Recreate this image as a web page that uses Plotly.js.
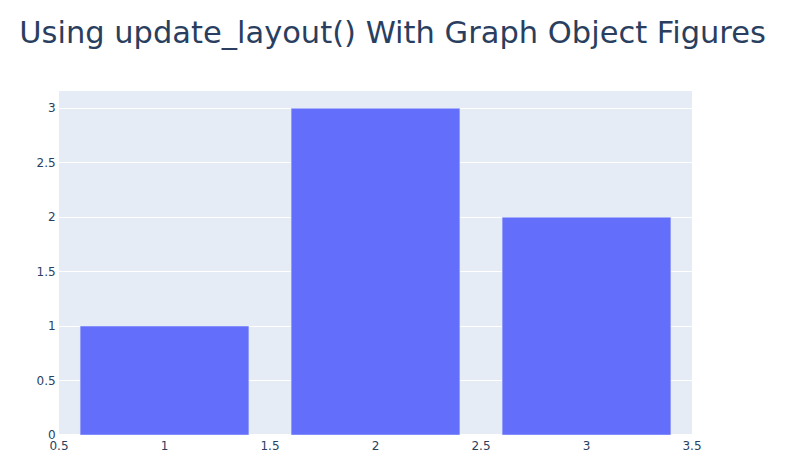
<!DOCTYPE html>
<html>
<head>
<meta charset="utf-8">
<script src="https://cdn.plot.ly/plotly-3.0.1.min.js"></script>
<style>html,body{margin:0;padding:0;background:#fff;}#chart{width:793px;height:463px;}</style>
</head>
<body>
<div id="chart"></div>
<script>
const xValues = [1, 2, 3];
const yValues = [1, 3, 2];
const titleText = "Using update_layout() With Graph Object Figures";

const data = [{
  type: "bar",
  x: xValues,
  y: yValues,
  marker: {color: "#636efa", line: {color: "#E5ECF6", width: 0.5}}
}];

const layout = {
  width: 793,
  height: 463,
  title: {text: titleText, font: {size: 30.5, color: "#2a3f5f", family: "DejaVu Sans, Verdana, sans-serif"},
          x: 0.495, xanchor: "center", xref: "container", yref: "container", y: 0.93, yanchor: "middle"},
  paper_bgcolor: "#ffffff",
  plot_bgcolor: "#E5ECF6",
  font: {color: "#2a3f5f", family: "DejaVu Sans, Verdana, sans-serif", size: 12},
  margin: {l: 59, r: 101, t: 91, b: 28},
  xaxis: {showgrid: false, linecolor: "white", zerolinecolor: "white", ticks: "", automargin: false},
  yaxis: {gridcolor: "white", linecolor: "white", zerolinecolor: "white", zerolinewidth: 2, ticks: "", automargin: false},
  showlegend: false
};

Plotly.newPlot("chart", data, layout, {displayModeBar: false});
</script>
</body>
</html>
